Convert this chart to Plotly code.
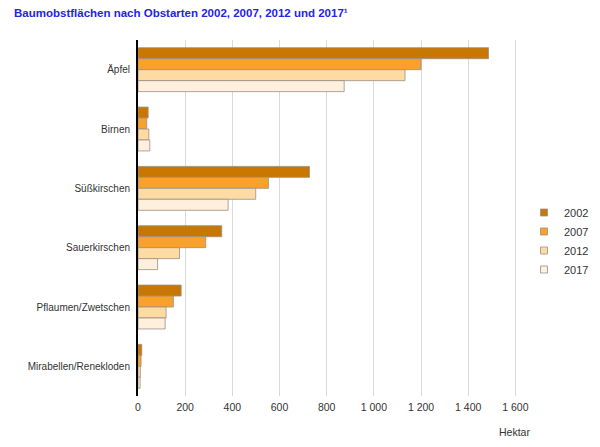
import plotly.graph_objects as go

categories = ["Äpfel", "Birnen", "Süßkirschen", "Sauerkirschen", "Pflaumen/Zwetschen", "Mirabellen/Renekloden"]
years = ["2002", "2007", "2012", "2017"]
v2002 = [1486, 43, 727, 355, 183, 16]
v2007 = [1200, 37, 553, 287, 150, 13]
v2012 = [1132, 46, 499, 176, 119, 10]
v2017 = [874, 50, 382, 83, 115, 9]
values = [v2002, v2007, v2012, v2017]
colors = ["#C87800", "#F9A12A", "#FDDBA3", "#FEF0DD"]
x_ticks = [0, 200, 400, 600, 800, 1000, 1200, 1400, 1600]

# the page body adds an 8 px offset, so the figure is 592x439
W, H = 592, 439

fig = go.Figure()
for y, vals, c in zip(years, values, colors):
    fig.add_trace(go.Bar(
        y=categories, x=vals, name=y, orientation="h", showlegend=False,
        marker=dict(color=c, line=dict(color="#9a8f85", width=0.8)),
    ))
# legend entries with small square swatches
for y, c in zip(years, colors):
    fig.add_trace(go.Scatter(
        x=[None], y=[None], mode="markers", name=y,
        marker=dict(symbol="square", size=7, color=c, line=dict(color="#9a8f85", width=0.8)),
    ))

fig.update_layout(
    width=W, height=H,
    barmode="group", bargap=0.26, bargroupgap=0,
    plot_bgcolor="white", paper_bgcolor="white",
    margin=dict(l=130, r=61, t=32, b=51, autoexpand=False),
    separators=", ",
    font=dict(family="Liberation Sans, Arial, sans-serif", size=11, color="#333"),
    title=dict(
        text="<b>Baumobstflächen nach Obstarten 2002, 2007, 2012 und 2017¹</b>",
        x=6/W, xref="container", xanchor="left",
        y=1-5/H, yref="container", yanchor="middle",
        font=dict(size=11.5, color="#2424E8", family="Liberation Sans, Arial, sans-serif"),
    ),
    legend=dict(
        x=516/W, y=1-190/H, xref="container", yref="container",
        xanchor="left", yanchor="top",
        font=dict(size=11, color="#333"), traceorder="normal",
        itemwidth=30, tracegroupgap=0,
    ),
    showlegend=True,
)
fig.update_xaxes(
    range=[0, 1700], tickvals=x_ticks, tickformat=",d", automargin=False,
    showgrid=True, gridcolor="#d9d9d9", gridwidth=1,
    ticks="outside", ticklen=1, tickcolor="rgba(0,0,0,0)",
    zeroline=False, showline=False,
    tickfont=dict(size=10.5, color="#333"),
)
fig.update_yaxes(
    autorange="reversed", showgrid=False, automargin=False,
    showline=True, linecolor="black", linewidth=2,
    ticks="outside", ticklen=4, tickcolor="rgba(0,0,0,0)",
    tickfont=dict(size=10, color="#333"),
)
fig.add_annotation(
    text="Hektar", xref="paper", yref="paper",
    x=(514-138)/401, y=-(432-396)/356,
    xanchor="center", yanchor="middle", showarrow=False,
    font=dict(size=10.5, color="#333"),
)
fig.write_html("out.html")
